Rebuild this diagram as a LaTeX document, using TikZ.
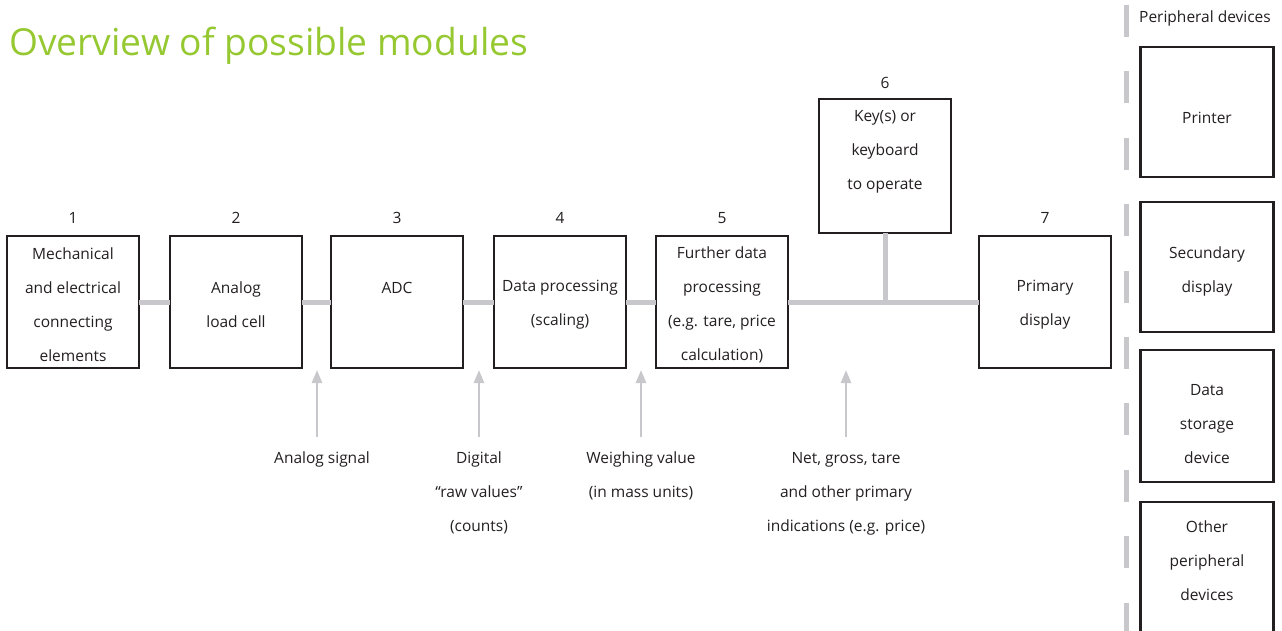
\documentclass[tikz,border=0pt]{standalone}
\usepackage{fontspec}
\setmainfont{Open Sans}
\usetikzlibrary{arrows.meta}
\definecolor{lgray}{RGB}{200,200,204}
\definecolor{tgreen}{RGB}{150,200,50}
\definecolor{boxline}{RGB}{35,31,32}
\tikzset{
  box/.style={draw=boxline,line width=2.4pt,minimum width=132pt,minimum height=132pt,inner sep=0pt,outer sep=0pt},
  boxtext/.style={align=center,font=\fontsize{15.5}{34}\selectfont,text=boxline,inner sep=0pt},
  num/.style={font=\fontsize{15.5}{17}\selectfont,text=boxline},
  lbl/.style={align=center,font=\fontsize{15.5}{34}\selectfont,text=boxline,anchor=north,inner sep=0pt},
  conn/.style={draw=lgray,line width=5pt},
  arr/.style={draw=lgray,line width=2.6pt,-{Triangle[width=10pt,length=13pt]}},
  sep/.style={draw=lgray,line width=5pt,dash pattern=on 32pt off 34.4pt},
}
\begin{document}
\begin{tikzpicture}[x=1pt,y=-1pt]
\useasboundingbox (0,0) rectangle (1282,631);
% title
\node[anchor=base west,inner sep=0pt,text=tgreen,font=\fontsize{37.2}{40}\selectfont] (title) at (9,56) {Overview of possible modules};
% main boxes
\node[box] (b1) at (73,302) {};
\node[box] (b2) at (236,302) {};
\node[box] (b3) at (397,302) {};
\node[box] (b4) at (560,302) {};
\node[box] (b5) at (722,302) {};
\node[box,minimum height=134pt] (b6) at (885,166) {};
\node[box] (b7) at (1045,302) {};
\node[boxtext] (t1) at (73,305) {Mechanical\\and electrical\\connecting\\elements};
\node[boxtext] (t2) at (236,305) {Analog\\load cell};
\node[boxtext] (t3) at (397,288) {ADC};
\node[boxtext] (t4) at (560,305) {Data processing\\(scaling)};
\node[boxtext] (t5) at (722,305) {Further data\\processing\\(e.g. tare, price\\calculation)};
\node[boxtext] (t6) at (885,152) {Key(s) or\\keyboard\\to operate};
\node[boxtext] (t7) at (1045,305) {Primary\\display};
% numbers
\node[num] (n1) at (73,218) {1};
\node[num] (n2) at (236,218) {2};
\node[num] (n3) at (397,218) {3};
\node[num] (n4) at (560,218) {4};
\node[num] (n5) at (722,218) {5};
\node[num] (n6) at (885,83) {6};
\node[num] (n7) at (1045,218) {7};
% connectors
\coordinate (j) at (885,302);
\draw[conn] (b1.east) -- (b2.west);
\draw[conn] (b2.east) -- (b3.west);
\draw[conn] (b3.east) -- (b4.west);
\draw[conn] (b4.east) -- (b5.west);
\draw[conn] (b5.east) -- (b7.west);
\draw[conn] (b6.south) -- (j);
% labels and arrows
\node[lbl] (l1) at (322,452) {Analog signal};
\node[lbl] (l2) at (479,452) {Digital\\``raw values''\\(counts)};
\node[lbl] (l3) at (641,452) {Weighing value\\(in mass units)};
\node[lbl] (l4) at (846,452) {Net, gross, tare\\and other primary\\indications (e.g. price)};
\coordinate (a1s) at (317,437); \coordinate (a1e) at (317,370);
\coordinate (a2s) at (479,437); \coordinate (a2e) at (479,370);
\coordinate (a3s) at (641,437); \coordinate (a3e) at (641,370);
\coordinate (a4s) at (846,437); \coordinate (a4e) at (846,370);
\draw[arr] (a1s) -- (a1e);
\draw[arr] (a2s) -- (a2e);
\draw[arr] (a3s) -- (a3e);
\draw[arr] (a4s) -- (a4e);
% peripheral section
\coordinate (st) at (1126,5); \coordinate (sb) at (1126,640);
\draw[sep] (st) -- (sb);
\node[anchor=west,inner sep=0pt,font=\fontsize{15.5}{17}\selectfont,text=boxline] (ph) at (1139,18) {Peripheral devices};
\node[box,minimum width=133pt,minimum height=130pt] (p1) at (1207,112) {};
\node[box,minimum width=133pt,minimum height=130pt] (p2) at (1207,267) {};
\node[box,minimum width=133pt,minimum height=132pt] (p3) at (1207,416) {};
\node[box,minimum width=133pt,minimum height=132pt] (p4) at (1207,568) {};
\node[boxtext] (q1) at (1207,118) {Printer};
\node[boxtext] (q2) at (1207,271) {Secundary\\display};
\node[boxtext] (q3) at (1207,424) {Data\\storage\\device};
\node[boxtext] (q4) at (1207,561) {Other\\peripheral\\devices};
\end{tikzpicture}
\end{document}
